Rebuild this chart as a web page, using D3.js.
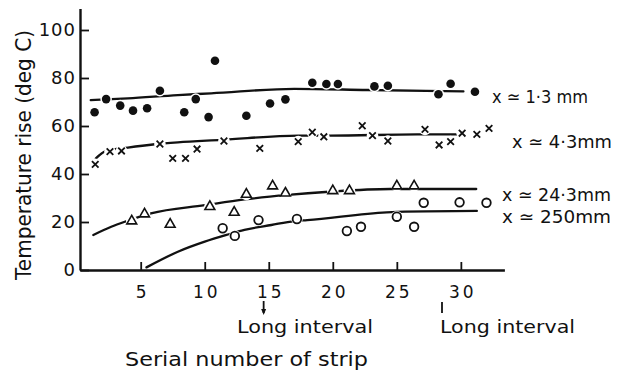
<!DOCTYPE html>
<html><head><meta charset="utf-8">
<script src="https://cdn.jsdelivr.net/npm/d3@7/dist/d3.min.js"></script>
<style>
html,body{margin:0;padding:0;background:#fff;}
svg{display:block;}
text{font-family:"DejaVu Sans",sans-serif;fill:#111;}
</style></head>
<body>
<svg id="chart" width="618" height="372"></svg>
<script>
// ---- data ----
const xTicks = [5, 10, 15, 20, 25, 30];
const yTicks = [0, 20, 40, 60, 80, 100];

// x ≃ 1·3 mm (filled dots)
const dotSerial = [1.4,2.3,3.4,4.4,5.5,6.5,8.4,9.3,10.3,10.8,13.25,15.1,16.3,18.4,19.5,20.4,23.25,24.3,28.25,29.2,31.1];
const dotRise   = [65.7,71.2,68.5,66.4,67.4,74.7,65.7,71.2,63.7,87.2,64.3,69.4,71.1,78,77.5,77.5,76.5,76.8,73.2,77.6,74.3];
// x ≃ 4·3 mm (crosses)
const crossSerial = [1.45,2.6,3.5,6.5,7.5,8.5,9.4,11.5,14.3,17.3,18.4,19.3,22.3,23.1,24.3,27.2,28.3,29.2,30.1,31.25,32.2];
const crossRise   = [44,49.3,49.6,52.5,46.5,46.5,50.4,53.75,50.7,53.5,57.4,55.5,60.1,56,53.75,58.6,52.1,53.5,57,56.5,59];
// x ≃ 24·3 mm (open triangles)
const triSerial = [4.3,5.3,7.3,10.4,12.3,13.25,15.3,16.3,20,21.3,25,26.35];
const triRise   = [20.4,23.3,19,26.4,24,31.5,35,32,33,33,35,35];
// x ≃ 250 mm (open circles)
const circSerial = [11.4,12.35,14.2,17.2,21.1,22.2,25,26.35,27.1,29.9,32];
const circRise   = [17.4,14.2,20.8,21.25,16.25,18,22.2,18,28,28.2,28];

// hand-drawn trend curves
const fit1Serial = [1.1,4,7.9,10.5,17,22.7,30.2];
const fit1Rise   = [70.8,71.5,72.9,73.6,75.5,75,74.4];
const fit2Serial = [1.5,2.3,4,6.1,7.9,11.3,17.3,19.8,26.6,29.8];
const fit2Rise   = [46.5,49.6,51,52.4,53.2,54.2,56,56,56.5,56.5];
const fit3Serial = [1.3,2.7,3.75,5.8,10,13.1,16.5,19.7,24.5,31.2];
const fit3Rise   = [14.6,18,20.1,23.6,27,29.4,31.3,32.6,33.75,33.75];
const fit4Serial = [5.45,7.9,10,11.7,13.1,15.2,17,18,24.2,25.65,31.25];
const fit4Rise   = [1.1,7.6,11.8,14.6,16.7,18.75,20.4,20.8,24,24.3,24.6];

const seriesLabels = ["x \u2243 1\u00B73 mm", "x \u2243 4\u00B73mm", "x \u2243 24\u00B73mm", "x \u2243 250mm"];
const markLabel = "Long interval";
const xTitle = "Serial number of strip";
const yTitle = "Temperature rise  (deg C)";

// ---- drawing ----
const svg = d3.select("#chart");
const x = d3.scaleLinear().domain([0.26, 33.4]).range([80, 504.4]);
const y = d3.scaleLinear().domain([0, 109]).range([270, 8.4]);
const ink = "#111";

const zip = (a, b) => a.map((v, i) => [v, b[i]]);

// axes
const gx = svg.append("g").attr("transform", "translate(0,270)")
  .call(d3.axisBottom(x).tickValues(xTicks).tickSizeInner(-8).tickSizeOuter(0).tickPadding(16).tickFormat(d3.format("d")));
const gy = svg.append("g").attr("transform", "translate(80,0)")
  .call(d3.axisLeft(y).tickValues(yTicks).tickSizeInner(-9).tickSizeOuter(0).tickPadding(4).tickFormat(d3.format("d")));
[gx, gy].forEach(g => {
  g.select(".domain").attr("stroke", ink).attr("stroke-width", 2.4);
  g.selectAll(".tick line").attr("stroke", ink).attr("stroke-width", 1.8);
  g.selectAll(".tick text").attr("fill", ink).style("font-family", '"DejaVu Sans",sans-serif');
});
gx.selectAll(".tick text").style("font-size", "17px").style("letter-spacing", "3px").attr("dx", "1.5");
gy.selectAll(".tick text").style("font-size", "18px").style("letter-spacing", "1px");

// curves
const line = d3.line().x(d => x(d[0])).y(d => y(d[1])).curve(d3.curveMonotoneX);
[[fit1Serial, fit1Rise], [fit2Serial, fit2Rise], [fit3Serial, fit3Rise], [fit4Serial, fit4Rise]].forEach(([a, b]) => {
  svg.append("path").datum(zip(a, b)).attr("d", line)
    .attr("fill", "none").attr("stroke", ink).attr("stroke-width", 2.3).attr("stroke-linecap", "round");
});

// white halos to break the curves around markers
const allPts = [].concat(zip(dotSerial, dotRise), zip(crossSerial, crossRise), zip(triSerial, triRise), zip(circSerial, circRise));
svg.append("g").selectAll("circle").data(allPts).join("circle")
  .attr("cx", d => x(d[0])).attr("cy", d => y(d[1])).attr("r", 5.8).attr("fill", "#fff");

// markers
svg.append("g").selectAll("circle").data(zip(dotSerial, dotRise)).join("circle")
  .attr("cx", d => x(d[0])).attr("cy", d => y(d[1])).attr("r", 4.3).attr("fill", ink);

const cg = svg.append("g").attr("stroke", ink).attr("stroke-width", 1.8).attr("fill", "none");
cg.selectAll("path").data(zip(crossSerial, crossRise)).join("path")
  .attr("d", d => { const cx = x(d[0]), cy = y(d[1]), s = 3.3;
    return `M${cx-s},${cy-s}L${cx+s},${cy+s}M${cx+s},${cy-s}L${cx-s},${cy+s}`; });

svg.append("g").selectAll("path").data(zip(triSerial, triRise)).join("path")
  .attr("transform", d => `translate(${x(d[0])},${y(d[1])})`)
  .attr("d", d3.symbol().type(d3.symbolTriangle).size(42))
  .attr("fill", "none").attr("stroke", ink).attr("stroke-width", 1.6);

svg.append("g").selectAll("circle").data(zip(circSerial, circRise)).join("circle")
  .attr("cx", d => x(d[0])).attr("cy", d => y(d[1])).attr("r", 4.3)
  .attr("fill", "none").attr("stroke", ink).attr("stroke-width", 1.8);

// series labels
const labPos = [[492, 103, 96], [512, 148, 100], [502, 201, 109], [502, 223, 109]];
seriesLabels.forEach((t, i) => {
  svg.append("text").attr("x", labPos[i][0]).attr("y", labPos[i][1])
    .attr("textLength", labPos[i][2]).attr("lengthAdjust", "spacingAndGlyphs")
    .style("font-size", "18px").text(t);
});

// "Long interval" markers
svg.append("line").attr("x1", x(14.6)).attr("x2", x(14.6)).attr("y1", 301).attr("y2", 313)
  .attr("stroke", ink).attr("stroke-width", 1.8);
svg.append("path").attr("d", `M${x(14.6)-2.5},${309}L${x(14.6)},${315}L${x(14.6)+2.5},${309}Z`).attr("fill", ink);
svg.append("text").attr("x", 237).attr("y", 333).attr("textLength", 136).attr("lengthAdjust", "spacingAndGlyphs")
  .style("font-size", "18px").text(markLabel);
svg.append("line").attr("x1", 442).attr("x2", 442).attr("y1", 302).attr("y2", 313)
  .attr("stroke", ink).attr("stroke-width", 1.8);
svg.append("text").attr("x", 440).attr("y", 333).attr("textLength", 135).attr("lengthAdjust", "spacingAndGlyphs")
  .style("font-size", "18px").text(markLabel);

// axis titles
svg.append("text").attr("x", 125).attr("y", 366).attr("textLength", 243).attr("lengthAdjust", "spacingAndGlyphs")
  .style("font-size", "19.5px").text(xTitle);
svg.append("text").attr("transform", "translate(31,280) rotate(-90)")
  .attr("textLength", 250).attr("lengthAdjust", "spacingAndGlyphs")
  .style("font-size", "22px").text(yTitle);
</script>
</body></html>
